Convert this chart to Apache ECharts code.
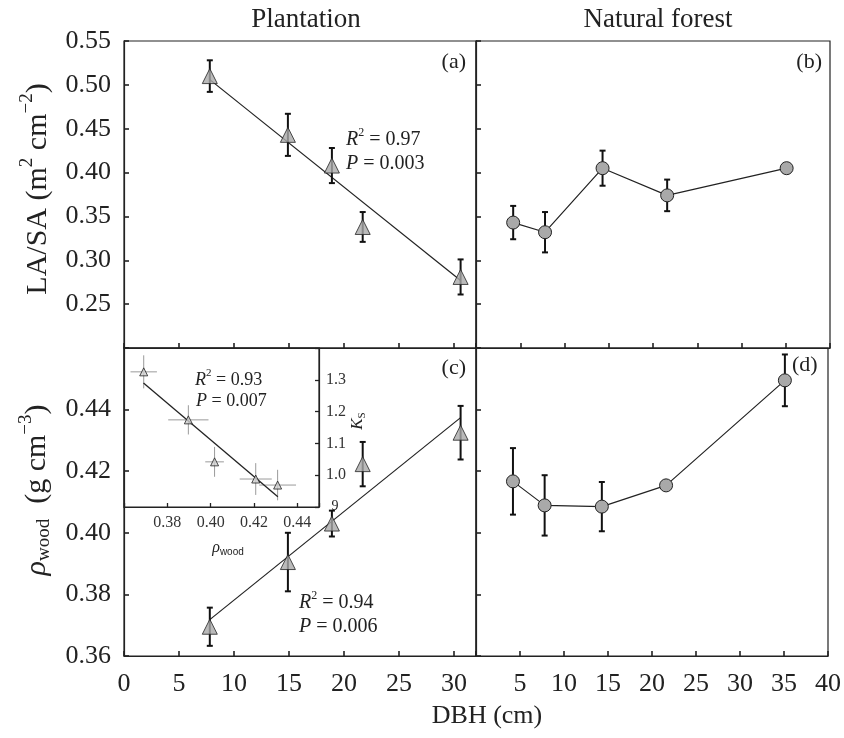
<!DOCTYPE html>
<html><head><meta charset="utf-8">
<script src="https://cdn.jsdelivr.net/npm/echarts@6/dist/echarts.min.js"></script>
<style>html,body{margin:0;padding:0;background:#fff}#c{width:844px;height:738px}</style>
</head><body><div id="c"></div><script>
// ---- data ----
const dbhPlant = [7.8, 14.9, 18.9, 21.7, 30.6];
const lasaPlant = [0.510, 0.443, 0.408, 0.338, 0.281];
const lasaPlantErr = [0.018, 0.024, 0.020, 0.017, 0.020];
const dbhNat = [4.2, 7.8, 14.3, 21.6, 35.1];
const lasaNat = [0.343, 0.332, 0.405, 0.374, 0.405];
const lasaNatErr = [0.019, 0.023, 0.020, 0.018, 0];
const rhoPlant = [0.3695, 0.3905, 0.4030, 0.4223, 0.4325];
const rhoPlantErr = [0.0062, 0.0095, 0.0042, 0.0072, 0.0087];
const rhoNat = [0.4167, 0.4089, 0.4085, 0.4154, 0.4495];
const rhoNatErr = [0.0108, 0.0098, 0.0080, 0, 0.0084];
const insetRho = [0.3691, 0.3897, 0.4018, 0.4208, 0.4309];
const insetRhoErr = [0.0061, 0.0093, 0.0043, 0.0074, 0.0085];
const insetKs = [1.325, 1.174, 1.042, 0.988, 0.969];
const insetKsErr = [0.052, 0.046, 0.047, 0.050, 0.048];
const fitLASA = [[7.8, 0.506], [30.6, 0.277]];
const fitRho = [[7.8, 0.3718], [30.6, 0.4374]];
const fitKs = [[0.369, 1.29], [0.431, 0.932]];
const yTicksLASA = [0.25, 0.30, 0.35, 0.40, 0.45, 0.50, 0.55];
const yTicksRho = [0.36, 0.38, 0.40, 0.42, 0.44];
const xTicksPlant = [0, 5, 10, 15, 20, 25, 30];
const xTicksNat = [5, 10, 15, 20, 25, 30, 35, 40];
const xTicksInset = [0.38, 0.40, 0.42, 0.44];
const yTicksInset = [1.0, 1.1, 1.2, 1.3];

const SERIF = 'Liberation Serif';
const INK = '#222';
const near = (arr, v) => arr.some(t => Math.abs(t - v) < 1e-6);

function axis(gridIndex, min, max, interval, showList, digits, extra) {
  return Object.assign({
    type: 'value', gridIndex, min, max, interval,
    splitLine: {show: false},
    axisLine: {show: true, lineStyle: {color: INK, width: 1.2}},
    axisTick: {show: true, inside: true, length: 5, lineStyle: {color: INK, width: 1.6}},
    axisLabel: {
      show: !!showList, margin: 13, color: INK, fontFamily: SERIF, fontSize: 26,
      formatter: v => (showList && near(showList, v)) ? (digits === 0 ? String(Math.round(v)) : v.toFixed(digits)) : ''
    }
  }, extra || {});
}

function errV(data, color, cap, lw) {
  return {
    type: 'custom', z: 2,
    renderItem: (params, api) => {
      const x = api.value(0), y = api.value(1), e = api.value(2);
      if (!e) return null;
      const t = api.coord([x, y + e]), b = api.coord([x, y - e]);
      const st = {stroke: color, lineWidth: lw};
      const ch = [{type: 'line', shape: {x1: t[0], y1: t[1], x2: b[0], y2: b[1]}, style: st}];
      if (cap) {
        ch.push({type: 'line', shape: {x1: t[0] - cap, y1: t[1], x2: t[0] + cap, y2: t[1]}, style: st});
        ch.push({type: 'line', shape: {x1: b[0] - cap, y1: b[1], x2: b[0] + cap, y2: b[1]}, style: st});
      }
      return {type: 'group', children: ch};
    },
    data
  };
}
function errH(data, color, lw) {
  return {
    type: 'custom', z: 2,
    renderItem: (params, api) => {
      const x = api.value(0), y = api.value(1), e = api.value(2);
      if (!e) return null;
      const l = api.coord([x - e, y]), r = api.coord([x + e, y]);
      return {type: 'line', shape: {x1: l[0], y1: l[1], x2: r[0], y2: r[1]}, style: {stroke: color, lineWidth: lw}};
    },
    data
  };
}
const zip = (xs, ys) => xs.map((x, i) => [x, ys[i]]);
const zip3 = (xs, ys, es) => xs.map((x, i) => [x, ys[i], es[i]]);

const markerStyle = {color: '#a9a9a9', borderColor: INK, borderWidth: 1};

const series = [
  // (a)
  errV(zip3(dbhPlant, lasaPlant, lasaPlantErr), '#111', 3, 2),
  {type: 'line', xAxisIndex: 0, yAxisIndex: 0, data: fitLASA, showSymbol: false, symbol: 'none', lineStyle: {color: INK, width: 1.2}, z: 1},
  {type: 'scatter', xAxisIndex: 0, yAxisIndex: 0, data: zip(dbhPlant, lasaPlant), symbol: 'triangle', symbolSize: 15, itemStyle: markerStyle, z: 3},
  // (b)
  Object.assign(errV(zip3(dbhNat, lasaNat, lasaNatErr), '#111', 3, 2), {xAxisIndex: 1, yAxisIndex: 1}),
  {type: 'line', xAxisIndex: 1, yAxisIndex: 1, data: zip(dbhNat, lasaNat), symbol: 'circle', symbolSize: 13, showSymbol: true, itemStyle: markerStyle, lineStyle: {color: INK, width: 1.2}, z: 3},
  // (c)
  Object.assign(errV(zip3(dbhPlant, rhoPlant, rhoPlantErr), '#111', 3, 2), {xAxisIndex: 2, yAxisIndex: 2}),
  {type: 'line', xAxisIndex: 2, yAxisIndex: 2, data: fitRho, showSymbol: false, symbol: 'none', lineStyle: {color: INK, width: 1.2}, z: 1},
  {type: 'scatter', xAxisIndex: 2, yAxisIndex: 2, data: zip(dbhPlant, rhoPlant), symbol: 'triangle', symbolSize: 15, itemStyle: markerStyle, z: 3},
  // (d)
  Object.assign(errV(zip3(dbhNat, rhoNat, rhoNatErr), '#111', 3, 2), {xAxisIndex: 3, yAxisIndex: 3}),
  {type: 'line', xAxisIndex: 3, yAxisIndex: 3, data: zip(dbhNat, rhoNat), symbol: 'circle', symbolSize: 13, showSymbol: true, itemStyle: markerStyle, lineStyle: {color: INK, width: 1.2}, z: 3},
  // inset
  Object.assign(errV(zip3(insetRho, insetKs, insetKsErr), '#9a9a9a', 0, 1), {xAxisIndex: 4, yAxisIndex: 4}),
  Object.assign(errH(zip3(insetRho, insetKs, insetRhoErr), '#9a9a9a', 1), {xAxisIndex: 4, yAxisIndex: 4}),
  {type: 'line', xAxisIndex: 4, yAxisIndex: 4, data: fitKs, showSymbol: false, symbol: 'none', lineStyle: {color: INK, width: 1.3}, z: 3},
  {type: 'scatter', xAxisIndex: 4, yAxisIndex: 4, data: zip(insetRho, insetKs), symbol: 'triangle', symbolSize: 8, itemStyle: {color: '#cfcfcf', borderColor: INK, borderWidth: 1}, z: 4}
];

const gridBase = {show: true, borderColor: INK, borderWidth: 1.2, backgroundColor: 'transparent', containLabel: false};
const grids = [
  Object.assign({}, gridBase, {left: 124, top: 41, width: 352, height: 307}),
  Object.assign({}, gridBase, {left: 476, top: 41, width: 354, height: 307}),
  Object.assign({}, gridBase, {left: 124, top: 348, width: 352, height: 308}),
  Object.assign({}, gridBase, {left: 476, top: 348, width: 354, height: 308}),
  Object.assign({}, gridBase, {left: 124, top: 348, width: 195, height: 159, backgroundColor: '#fff'})
];

const xAxes = [
  axis(0, 0, 32, 5, null, 0),
  axis(1, 0, 40, 5, null, 0),
  axis(2, 0, 32, 5, xTicksPlant, 0),
  axis(3, 0, 40, 5, xTicksNat, 0),
  axis(4, 0.36, 0.45, 0.02, xTicksInset, 2, {})
];
xAxes[2].axisLabel.margin = 15; xAxes[3].axisLabel.margin = 15;
xAxes[4].axisLabel.fontSize = 16; xAxes[4].axisLabel.margin = 8; xAxes[4].axisLabel.color = '#333';
xAxes[4].axisTick.length = 4; xAxes[4].axisTick.lineStyle.width = 1.3;

const yAxes = [
  axis(0, 0.20, 0.55, 0.05, yTicksLASA, 2),
  axis(1, 0.20, 0.55, 0.05, null, 2),
  axis(2, 0.36, 0.46, 0.02, yTicksRho, 2),
  axis(3, 0.36, 0.46, 0.02, null, 2),
  axis(4, 0.9, 1.4, 0.1, yTicksInset, 1, {position: 'right'})
];
yAxes[4].axisLabel.fontSize = 16; yAxes[4].axisLabel.margin = 7; yAxes[4].axisLabel.color = '#333';
yAxes[4].axisTick.length = 4; yAxes[4].axisTick.lineStyle.width = 1.3;

function txt(x, y, text, size, align, rich, rotation) {
  const st = {text, x: 0, y: 0, fill: INK, font: size + 'px "' + SERIF + '"', align: align || 'left', verticalAlign: 'middle'};
  if (rich) st.rich = rich;
  return {type: 'text', x, y, rotation: rotation || 0, style: st, z: 10};
}
function richSet(size) {
  return {
    n: {fontFamily: SERIF, fontSize: size, fill: INK},
    i: {fontFamily: SERIF, fontSize: size, fontStyle: 'italic', fill: INK},
    sup: {fontFamily: SERIF, fontSize: Math.round(size * 0.62), fill: INK, padding: [0, 0, Math.round(size * 0.7), 0]},
    sub: {fontFamily: SERIF, fontSize: Math.round(size * 0.62), fill: INK, padding: [Math.round(size * 0.5), 0, 0, 0]},
    subs: {fontFamily: 'Liberation Sans', fontSize: Math.round(size * 0.62), fill: INK, padding: [Math.round(size * 0.5), 0, 0, 0]}
  };
}

const graphics = [
  txt(306, 20, 'Plantation', 27, 'center'),
  txt(658, 20, 'Natural forest', 27, 'center'),
  txt(466, 62, '(a)', 22, 'right'),
  txt(822, 62, '(b)', 22, 'right'),
  txt(466, 368, '(c)', 22, 'right'),
  txt(792, 365, '(d)', 22, 'left'),
  txt(346, 140, '{i|R}{sup|2}{n| = 0.97}', 20, 'left', richSet(20)),
  txt(346, 164, '{i|P}{n| = 0.003}', 20, 'left', richSet(20)),
  txt(299, 603, '{i|R}{sup|2}{n| = 0.94}', 20, 'left', richSet(20)),
  txt(299, 627, '{i|P}{n| = 0.006}', 20, 'left', richSet(20)),
  txt(195, 380, '{i|R}{sup|2}{n| = 0.93}', 18, 'left', richSet(18)),
  txt(196, 401, '{i|P}{n| = 0.007}', 18, 'left', richSet(18)),
  txt(335, 506, '9', 14, 'center'),
  txt(228, 548, '{i|ρ}{subs|wood}', 16, 'center', richSet(16)),
  txt(358, 421, '{i|K}{sub|S}', 17, 'center', richSet(17), Math.PI / 2),
  txt(487, 716, 'DBH (cm)', 26, 'center'),
  txt(38, 189, '{n|LA/SA (m}{sup|2}{n| cm}{sup|−2}{n|)}', 30, 'center', richSet(30), Math.PI / 2),
  txt(37, 490, '{i|ρ}{sub|wood}{n|  (g cm}{sup|−3}{n|)}', 30, 'center', richSet(30), Math.PI / 2)
];

const chart = echarts.init(document.getElementById('c'), null, {renderer: 'canvas'});
chart.setOption({
  animation: false,
  backgroundColor: '#fff',
  grid: grids,
  xAxis: xAxes,
  yAxis: yAxes,
  series,
  graphic: graphics
});
</script></body></html>
